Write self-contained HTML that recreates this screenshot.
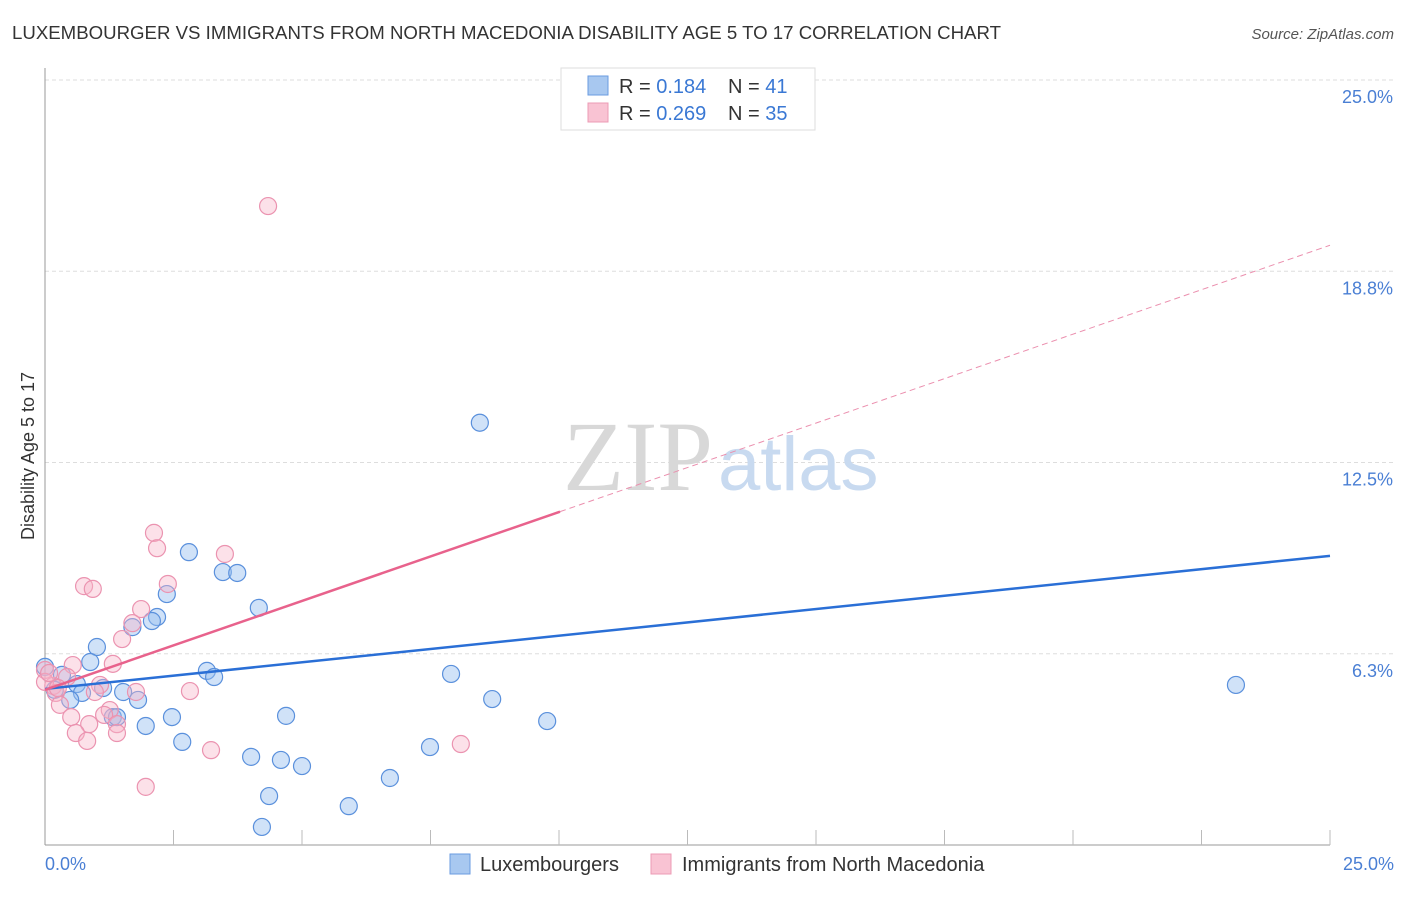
<!DOCTYPE html>
<html><head><meta charset="utf-8"><style>
body{margin:0;background:#fff;font-family:"Liberation Sans",sans-serif;}
</style></head><body>
<svg width="1406" height="892" viewBox="0 0 1406 892" xmlns="http://www.w3.org/2000/svg">
<text x="12" y="39" font-size="18" fill="#333" textLength="989" lengthAdjust="spacingAndGlyphs">LUXEMBOURGER VS IMMIGRANTS FROM NORTH MACEDONIA DISABILITY AGE 5 TO 17 CORRELATION CHART</text>
<text x="1394" y="39" font-size="15" fill="#555" font-style="italic" text-anchor="end">Source: ZipAtlas.com</text>
<g id="grid"></g>
<g>
<text x="713" y="490" font-size="100" font-family="Liberation Serif,serif" fill="#d8d8d8" text-anchor="end">ZIP</text>
<text x="718" y="490" font-size="76" fill="#c8daf0">atlas</text>
</g>
<line x1="45" y1="68" x2="45" y2="845" stroke="#999" stroke-width="1"/>
<line x1="45" y1="845" x2="1330" y2="845" stroke="#999" stroke-width="1"/>
<g id="ticks"></g>
<text transform="translate(34,456) rotate(-90)" font-size="18" fill="#333" text-anchor="middle">Disability Age 5 to 17</text>
<text x="45" y="870" font-size="18" fill="#4a7fd4">0.0%</text>
<text x="1394" y="870" font-size="18" fill="#4a7fd4" text-anchor="end">25.0%</text>
<g id="pts"></g>
<g id="lines"></g>
<g>
<rect x="561" y="68" width="254" height="62" fill="#fff" stroke="#ddd"/>
<rect x="588" y="76" width="20" height="19" fill="#a8c8f0" stroke="#6a9be0"/>
<rect x="588" y="103" width="20" height="19" fill="#f9c3d3" stroke="#ec9bb5"/>
<text x="619" y="93" font-size="20" fill="#333">R = <tspan fill="#3a78d4">0.184</tspan><tspan x="728">N = </tspan><tspan fill="#3a78d4">41</tspan></text>
<text x="619" y="120" font-size="20" fill="#333">R = <tspan fill="#3a78d4">0.269</tspan><tspan x="728">N = </tspan><tspan fill="#3a78d4">35</tspan></text>
</g>
<g>
<rect x="450" y="854" width="20" height="20" fill="#a8c8f0" stroke="#6a9be0"/>
<text x="480" y="871" font-size="20" fill="#333">Luxembourgers</text>
<rect x="651" y="854" width="20" height="20" fill="#f9c3d3" stroke="#ec9bb5"/>
<text x="682" y="871" font-size="20" fill="#333">Immigrants from North Macedonia</text>
</g>
</svg>
<script>
const yTicks=[25,18.75,12.5,6.25];
const yTickLabels=["25.0%","18.8%","12.5%","6.3%"];
const blueX=[10.76,8.46,2.8,3.46,3.74,2.37,4.16,2.18,2.08,1.7,1.01,0.88,0,0.33,3.15,3.29,7.9,23.17,0.62,1.13,1.52,0.72,0.19,0.49,1.81,8.7,1.32,1.4,2.47,4.69,9.77,1.96,2.67,7.49,4.01,4.59,5.0,6.71,4.36,5.91,4.22];
const blueY=[25,13.8,9.57,8.92,8.89,8.2,7.75,7.45,7.32,7.12,6.47,5.98,5.82,5.56,5.69,5.49,5.59,5.23,5.26,5.13,5.0,4.97,5.07,4.74,4.74,4.77,4.18,4.18,4.18,4.22,4.05,3.89,3.37,3.2,2.88,2.78,2.58,2.19,1.6,1.27,0.59];
const pinkX=[4.34,2.12,2.18,3.5,0.76,0.93,2.39,1.87,1.7,1.5,1.32,0.54,0,0.43,0.16,1.07,1.77,2.82,0.21,0.97,0.29,0.51,1.26,1.15,0.86,1.4,0.6,0.82,1.4,3.23,8.09,1.96,0,0.08,0.25];
const pinkY=[20.88,10.2,9.7,9.51,8.46,8.37,8.53,7.71,7.25,6.73,5.92,5.88,5.72,5.49,5.2,5.23,5.0,5.03,4.97,5.0,4.58,4.18,4.41,4.25,3.95,3.95,3.66,3.4,3.66,3.1,3.3,1.9,5.33,5.62,5.13];
const blueTrend=[5.1,9.45];
const pinkTrend=[5.07,19.6];
const pinkSolidEnd=10.02;
const NS="http://www.w3.org/2000/svg";
const xs=v=>45+v*51.4, ys=v=>845-v*30.6;
function mk(tag,attrs,parent){const e=document.createElementNS(NS,tag);for(const k in attrs)e.setAttribute(k,attrs[k]);parent.appendChild(e);return e;}
const grid=document.getElementById('grid');
yTicks.forEach((t,i)=>{
 const l=mk('line',{x1:45,x2:1394,y1:ys(t),y2:ys(t),stroke:'#ddd','stroke-dasharray':'4,3'},grid);
 
 
 const tx=mk('text',{x:1393,y:ys(t)+23,'font-size':18,fill:'#4a7fd4','text-anchor':'end'},grid);
 tx.textContent=yTickLabels[i];
 
 
});
const ticks=document.getElementById('ticks');
for(let i=1;i<=10;i++){
 const l=mk('line',{x1:xs(i*2.5),x2:xs(i*2.5),y1:830,y2:845,stroke:'#bbb'},ticks);
 
 
}
const pts=document.getElementById('pts');
blueX.forEach((x,i)=>{
 const c=mk('circle',{cx:xs(x),cy:ys(blueY[i]),r:8.5,fill:'rgba(150,190,240,0.45)',stroke:'#5a90dc','stroke-width':1.2},pts);
 
 
});
pinkX.forEach((x,i)=>{
 const c=mk('circle',{cx:xs(x),cy:ys(pinkY[i]),r:8.5,fill:'rgba(247,180,200,0.4)',stroke:'#eb93b0','stroke-width':1.2},pts);
 
 
});
const lines=document.getElementById('lines');
const bl=mk('line',{x1:xs(0),y1:ys(blueTrend[0]),x2:xs(25),y2:ys(blueTrend[1]),stroke:'#2a6fd6','stroke-width':2.5},lines);


const pAt=v=>pinkTrend[0]+(pinkTrend[1]-pinkTrend[0])*v/25;
const ps=mk('line',{x1:xs(0),y1:ys(pinkTrend[0]),x2:xs(pinkSolidEnd),y2:ys(pAt(pinkSolidEnd)),stroke:'#e8628c','stroke-width':2.5},lines);


const pd=mk('line',{x1:xs(pinkSolidEnd),y1:ys(pAt(pinkSolidEnd)),x2:xs(25),y2:ys(pinkTrend[1]),stroke:'#eb8fae','stroke-width':1,'stroke-dasharray':'6,4'},lines);


</script>
</body></html>
